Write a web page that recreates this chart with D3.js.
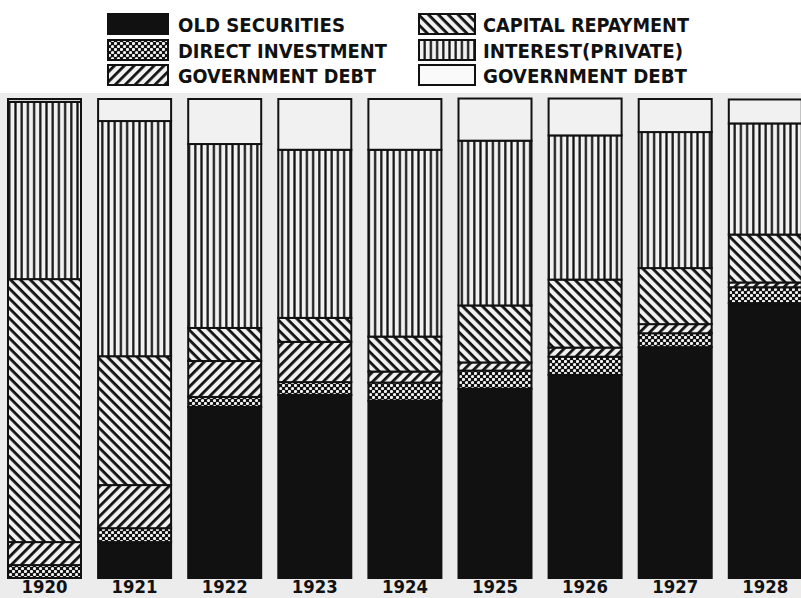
<!DOCTYPE html>
<html>
<head>
<meta charset="utf-8">
<script src="https://cdn.jsdelivr.net/npm/d3@7"></script>
<style>
  html, body { margin: 0; padding: 0; background: #ffffff; }
  svg { display: block; }
</style>
</head>
<body>
<script>
// ---- Data (percent of total) ----
const years = ["1920", "1921", "1922", "1923", "1924", "1925", "1926", "1927", "1928"];
const oldSecurities    = [0.0, 7.5, 35.7, 38.2, 37.0, 39.5, 42.4, 48.2, 57.4];
const directInvestment = [2.7, 2.9, 2.1, 2.7, 3.8, 3.8, 3.8, 2.9, 3.3];
const governmentDebtA  = [4.8, 9.0, 7.5, 8.4, 2.3, 1.7, 1.9, 1.9, 1.0];
const capitalRepayment = [54.9, 26.9, 6.9, 5.0, 7.3, 11.9, 14.2, 11.7, 10.0];
const interestPrivate  = [37.0, 49.1, 38.4, 35.1, 39.0, 34.4, 30.1, 28.4, 23.2];
const governmentDebtB  = [0.6, 4.6, 9.4, 10.6, 10.6, 8.8, 7.7, 6.9, 5.0];
const seriesKeys = ["old", "direct", "govA", "capital", "interest", "govB"];
const legendLabels = ["OLD SECURITIES", "DIRECT INVESTMENT", "GOVERNMENT DEBT",
                      "CAPITAL REPAYMENT", "INTEREST(PRIVATE)", "GOVERNMENT DEBT"];

const W = 801, H = 598;
const svg = d3.select("body").append("svg").attr("width", W).attr("height", H);

// background
svg.append("rect").attr("x", 0).attr("y", 0).attr("width", W).attr("height", H).attr("fill", "#ececec");
svg.append("rect").attr("x", 0).attr("y", 0).attr("width", W).attr("height", 93).attr("fill", "#ffffff");

// ---- Patterns ----
const defs = svg.append("defs");
const ink = "#111";
const paper = "#f1f1f1";

// vertical lines (interest)
let p = defs.append("pattern").attr("id", "pat-interest").attr("patternUnits", "userSpaceOnUse")
  .attr("width", 6.2).attr("height", 10);
p.append("rect").attr("width", 6.2).attr("height", 10).attr("fill", paper);
p.append("rect").attr("x", 2).attr("y", 0).attr("width", 2.2).attr("height", 10).attr("fill", ink);

// "\" lines (capital repayment)
p = defs.append("pattern").attr("id", "pat-capital").attr("patternUnits", "userSpaceOnUse")
  .attr("width", 7).attr("height", 7).attr("patternTransform", "rotate(45)");
p.append("rect").attr("width", 7).attr("height", 7).attr("fill", paper);
p.append("rect").attr("x", 0).attr("y", 0).attr("width", 7).attr("height", 2.8).attr("fill", ink);

// "/" lines (government debt)
p = defs.append("pattern").attr("id", "pat-gov").attr("patternUnits", "userSpaceOnUse")
  .attr("width", 7).attr("height", 7).attr("patternTransform", "rotate(-45)");
p.append("rect").attr("width", 7).attr("height", 7).attr("fill", paper);
p.append("rect").attr("x", 0).attr("y", 0).attr("width", 7).attr("height", 2.8).attr("fill", ink);

// crosshatch (direct investment)
p = defs.append("pattern").attr("id", "pat-direct").attr("patternUnits", "userSpaceOnUse")
  .attr("width", 6).attr("height", 6);
p.append("rect").attr("width", 6).attr("height", 6).attr("fill", ink);
p.append("circle").attr("cx", 1.5).attr("cy", 1.5).attr("r", 1.6).attr("fill", paper);
p.append("circle").attr("cx", 4.5).attr("cy", 4.5).attr("r", 1.6).attr("fill", paper);

const fills = {
  old: ink,
  direct: "url(#pat-direct)",
  govA: "url(#pat-gov)",
  capital: "url(#pat-capital)",
  interest: "url(#pat-interest)",
  govB: paper
};

// ---- Data table for stack ----
const table = years.map((y, i) => ({
  year: y,
  old: oldSecurities[i],
  direct: directInvestment[i],
  govA: governmentDebtA[i],
  capital: capitalRepayment[i],
  interest: interestPrivate[i],
  govB: governmentDebtB[i]
}));
const stack = d3.stack().keys(seriesKeys)(table);

// ---- Scales ----
const step = 90.1, bw = 73;
const x = d3.scaleBand().domain(years)
  .range([8, 8 + years.length * step - (step - bw)])
  .paddingInner((step - bw) / step).paddingOuter(0);
const y = d3.scaleLinear().domain([0, 100]).range([578, 99]);

// ---- Bars ----
const layers = svg.append("g").selectAll("g").data(stack).join("g")
  .attr("fill", d => fills[d.key]);
layers.selectAll("rect").data(d => d.filter(s => s[1] - s[0] > 0)).join("rect")
  .attr("x", d => x(d.data.year))
  .attr("width", x.bandwidth())
  .attr("y", d => y(d[1]))
  .attr("height", d => y(d[0]) - y(d[1]))
  .attr("stroke", ink)
  .attr("stroke-width", 2);

// ---- Year axis ----
const xAxis = d3.axisBottom(x).tickSize(0).tickPadding(0);
const ax = svg.append("g").attr("transform", "translate(0,581)").call(xAxis);
ax.select(".domain").remove();
ax.selectAll("text")
  .attr("dy", "0.72em")
  .attr("fill", ink)
  .style("font-family", "'DejaVu Sans Condensed', 'Liberation Sans Narrow', sans-serif")
  .style("font-weight", "bold")
  .style("font-size", "17px")
  .attr("textLength", 46)
  .attr("lengthAdjust", "spacingAndGlyphs");

// ---- Legend ----
const legendPos = [
  {sx: 108, sw: 60, tx: 178, tw: 167, cy: 24},
  {sx: 108, sw: 60, tx: 178, tw: 209, cy: 50},
  {sx: 108, sw: 60, tx: 178, tw: 198, cy: 75},
  {sx: 419, sw: 56, tx: 483, tw: 206, cy: 24},
  {sx: 419, sw: 56, tx: 483, tw: 200, cy: 50},
  {sx: 419, sw: 56, tx: 483, tw: 204, cy: 75}
];
const lg = svg.append("g").selectAll("g").data(seriesKeys).join("g");
lg.append("rect")
  .attr("x", (d, i) => legendPos[i].sx)
  .attr("y", (d, i) => legendPos[i].cy - 10)
  .attr("width", (d, i) => legendPos[i].sw)
  .attr("height", 20)
  .attr("fill", d => d === "govB" ? "#fafafa" : fills[d])
  .attr("stroke", ink).attr("stroke-width", 2);
lg.append("text")
  .attr("x", (d, i) => legendPos[i].tx)
  .attr("y", (d, i) => legendPos[i].cy + 7.5)
  .attr("fill", ink)
  .style("font-family", "'DejaVu Sans Condensed', 'Liberation Sans Narrow', sans-serif")
  .style("font-weight", "bold")
  .style("font-size", "20px")
  .attr("textLength", (d, i) => legendPos[i].tw)
  .attr("lengthAdjust", "spacingAndGlyphs")
  .text((d, i) => legendLabels[i]);
</script>
</body>
</html>
